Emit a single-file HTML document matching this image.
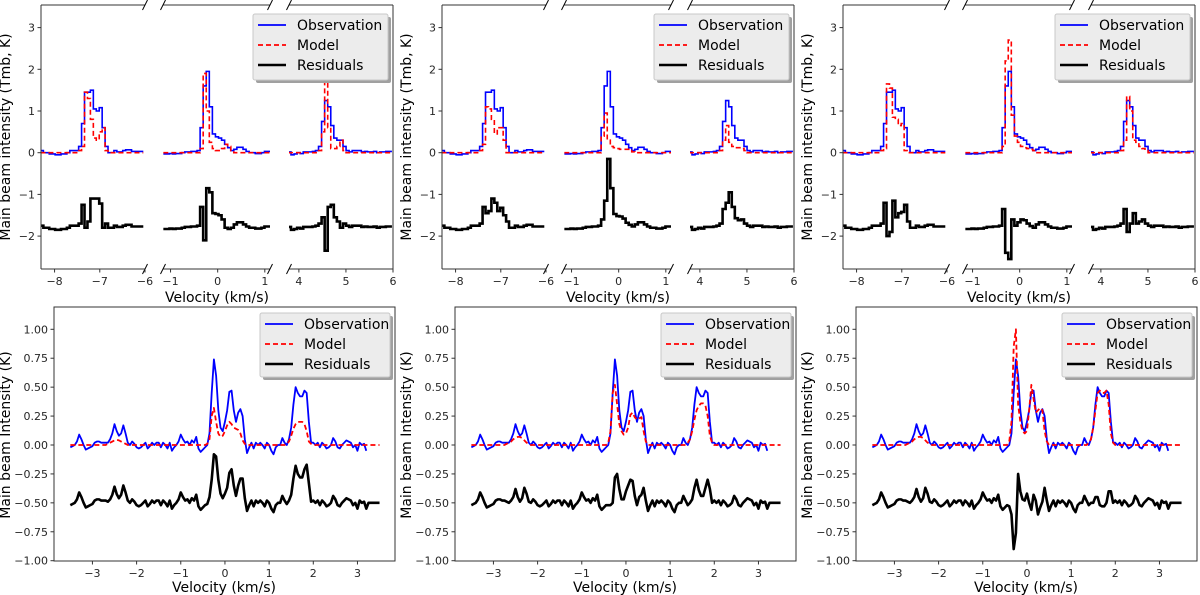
<!DOCTYPE html>
<html><head><meta charset="utf-8"><style>
html,body{margin:0;padding:0;background:#fff;}
svg{display:block;font-family:"DejaVu Sans","Liberation Sans",sans-serif;}
</style></head><body>
<svg id="fig" width="1200" height="595" viewBox="0 0 1200 595" xmlns="http://www.w3.org/2000/svg"></svg>
<script>
// ---------- TOP ROW DATA (broken axis, binned spectra) ----------
const segStart = [-8.28, -1.12, 3.8];
const segStep = 0.065;
const obsSeg1 = [0.05,0.0,0.0,-0.03,-0.03,-0.05,-0.05,-0.03,-0.03,0.0,0.05,0.05,0.05,0.15,0.7,1.45,1.45,1.5,1.05,1.0,1.08,0.6,0.15,0.0,0.0,0.05,0.02,0.02,0.05,0.07,0.07,0.03,0.03,0.03,0.03];
const obsSeg2 = [-0.03,-0.03,-0.02,-0.03,-0.02,-0.02,0.0,0.02,0.02,0.03,0.03,0.05,0.6,1.6,1.95,1.1,0.45,0.38,0.35,0.3,0.2,0.12,0.05,0.08,0.13,0.13,0.08,0.03,0.0,0.0,-0.02,-0.02,0.0,0.03,0.03];
const obsSeg3 = [0.02,-0.05,-0.03,0.0,-0.02,0.02,0.02,0.02,0.03,0.05,0.15,0.75,1.25,1.1,0.65,0.35,0.3,0.3,0.15,0.05,0.02,0.05,0.05,0.05,0.02,0.03,0.02,0.02,0.03,0.0,0.02,0.02,0.03,0.03];
const modelA1 = [0,0,0,0,0,0,0,0,0,0,0,0,0,0.05,0.15,1.45,1.3,0.8,0.35,0.3,0.5,0.6,0.05,0,0,0,0,0,0,0,0,0,0,0,0];
const modelA2 = [0,0,0,0,0,0,0,0,0,0,0,0,0.1,1.9,1.0,0.25,0.1,0.05,0.05,0.1,0.2,0.15,0.05,0,0,0,0,0,0,0,0,0,0,0,0];
const modelA3 = [0,0,0,0,0,0,0,0,0,0,0.05,0.5,1.8,0.6,0.1,0.1,0.15,0.3,0.05,0,0,0,0,0,0,0,0,0,0,0,0,0,0,0];
const modelB1 = [0,0,0,0,0,0,0,0,0,0,0,0,0,0.05,0.2,1.1,1.05,0.8,0.45,0.6,0.6,0.3,0.0,0,0,0,0,0,0,0,0,0,0,0,0];
const modelB2 = [0,0,0,0,0,0,0,0,0,0,0,0,0.4,0.95,0.3,0.15,0.12,0.1,0.08,0.08,0.08,0.05,0.02,0,0,0,0,0,0,0,0,0,0,0,0];
const modelB3 = [0,0,0,0,0,0,0,0,0,0,0.05,0.3,0.65,0.25,0.15,0.12,0.12,0.1,0.05,0,0,0,0,0,0,0,0,0,0,0,0,0,0,0];
const modelC1 = [0,0,0,0,0,0,0,0,0,0,0,0,0,0.05,0.1,1.65,1.55,0.85,0.8,0.65,0.7,0.05,0.0,0,0,0,0,0,0,0,0,0,0,0,0];
const modelC2 = [0,0,0,0,0,0,0,0,0,0,0,0,0.15,2.2,2.7,0.9,0.4,0.25,0.15,0.12,0.1,0.08,0.05,0,0,0,0,0,0,0,0,0,0,0,0];
const modelC3 = [0,0,0,0,0,0,0,0,0,0,0.05,0.3,1.35,1.0,0.3,0.25,0.15,0.1,0.05,0,0,0,0,0,0,0,0,0,0,0,0,0,0,0];
const topResidOffset = -1.8;
const topYTicks = [-2,-1,0,1,2,3];
const topXTicks = [[-8,-7,-6],[-1,0,1],[4,5,6]];

// ---------- BOTTOM ROW DATA (0.05 km/s grid from -3.5) ----------
const botStart = -3.5;
const botStep = 0.05;
const botObs = [
 -0.02,-0.01,0.0,0.03,0.09,0.05,0.0,-0.04,-0.03,-0.02,
 -0.01,0.02,0.03,0.03,0.02,0.02,0.02,0.02,0.05,0.1,
 0.18,0.12,0.08,0.1,0.17,0.1,0.02,0.0,0.03,0.01,
 -0.02,-0.03,-0.02,0.0,0.02,-0.03,-0.01,0.02,0.0,0.02,
 0.02,-0.02,0.02,0.0,-0.03,0.02,-0.05,-0.02,0.0,0.03,
 0.09,0.05,0.02,0.03,0.0,0.04,0.02,0.07,-0.03,-0.06,
 -0.04,-0.02,0.0,0.1,0.45,0.74,0.6,0.3,0.15,0.12,
 0.2,0.3,0.46,0.47,0.3,0.2,0.28,0.31,0.25,0.05,
 -0.07,-0.02,0.02,-0.03,0.02,0.0,0.02,0.0,-0.03,0.02,
 0.0,-0.05,-0.08,-0.02,0.0,0.0,0.06,0.02,0.0,0.05,
 0.15,0.35,0.5,0.45,0.42,0.42,0.47,0.45,0.2,0.02,
 0.02,0.0,0.02,-0.02,0.02,0.0,-0.03,-0.02,0.0,0.06,
 0.03,-0.02,-0.03,0.0,0.02,0.04,0.03,0.02,-0.02,0.0,
 -0.05,0.02,0.0,0.01,-0.05];
const botModelA = [
 0,0,0,0,0,0,0,0,0,0,
 0,0,0,0,0,0,0,0.01,0.02,0.03,
 0.04,0.045,0.04,0.03,0.02,0.01,0,0,0,0,
 0,0,0,0,0,0,0,0,0,0,
 0,0,0,0,0,0,0,0,0,0,
 0,0,0,0,0,0,0,0,0,0,
 0,0,0.01,0.05,0.25,0.32,0.2,0.1,0.07,0.08,
 0.12,0.17,0.2,0.18,0.15,0.14,0.13,0.1,0.04,0.01,
 0,0,0,0,0,0,0,0,0,0,
 0,0,0,0,0,0,0,0,0.01,0.03,
 0.08,0.14,0.18,0.2,0.2,0.2,0.18,0.12,0.03,0.01,
 0,0,0,0,0,0,0,0,0,0,
 0,0,0,0,0,0,0,0,0,0,
 0,0,0,0,0,0,0,0,0,0,0];
const botModelB = [
 0,0,0,0,0,0,0,0,0,0,
 0,0,0,0,0,0,0.01,0.02,0.03,0.05,
 0.06,0.07,0.07,0.06,0.04,0.02,0.01,0,0,0,
 0,0,0,0,0,0,0,0,0,0,
 0,0,0,0,0,0,0,0,0,0,
 0,0,0,0,0,0,0,0,0,0,
 0,0,0.02,0.12,0.45,0.52,0.35,0.18,0.12,0.09,
 0.1,0.15,0.26,0.28,0.24,0.22,0.23,0.24,0.12,0.03,
 0,0,0,0,0,0,0,0,0,0,
 0,0,0,0,0,0,0,0,0.02,0.05,
 0.12,0.22,0.3,0.34,0.36,0.36,0.34,0.25,0.08,0.02,
 0,0,0,0,0,0,0,0,0,0,
 0,0,0,0,0,0,0,0,0,0,
 0,0,0,0,0,0,0,0,0,0,0];
const botModelC = [
 0,0,0,0,0,0,0,0,0,0,
 0,0,0,0,0,0,0.01,0.02,0.03,0.05,
 0.06,0.07,0.07,0.06,0.04,0.02,0.01,0,0,0,
 0,0,0,0,0,0,0,0,0,0,
 0,0,0,0,0,0,0,0,0,0,
 0,0,0,0,0,0,0,0,0,0,
 0,0,0.03,0.2,0.85,1.0,0.35,0.2,0.12,0.1,
 0.12,0.3,0.52,0.4,0.28,0.3,0.32,0.3,0.12,0.03,
 0,0,0,0,0,0,0,0,0,0,
 0,0,0,0,0,0,0,0,0.02,0.05,
 0.15,0.3,0.45,0.47,0.45,0.45,0.47,0.35,0.1,0.02,
 0,0,0,0,0,0,0,0,0,0,
 0,0,0,0,0,0,0,0,0,0,
 0,0,0,0,0,0,0,0,0,0,0];
const botResidOffset = -0.5;
const botYTicks = [-1.0,-0.75,-0.5,-0.25,0.0,0.25,0.5,0.75,1.0];
const botXTicks = [-3,-2,-1,0,1,2,3];

const NS = "http://www.w3.org/2000/svg";
const svg = document.getElementById('fig');
function mk(tag, attrs, parent){
  const e = document.createElementNS(NS, tag);
  for (const k in attrs) e.setAttribute(k, attrs[k]);
  (parent||svg).appendChild(e);
  return e;
}
function fmtNum(v, d){ const s = Math.abs(v).toFixed(d); return (v < 0 ? "\u2212" : "") + s; }
let clipId = 0;

function legend(g, bx, by, w, h){
  const lg = mk('g', {}, g);
  
  
  mk('rect', {x:bx+3, y:by+3, width:w, height:h, fill:'#a0a0a0', rx:2}, lg);
  mk('rect', {x:bx, y:by, width:w, height:h, fill:'#ececec', stroke:'#c8c8c8', rx:2}, lg);
  const items = [['Observation','#0000ff','',1.8],['Model','#ff0000','5,3',1.8],['Residuals','#000','',2.6]];
  items.forEach((it, i) => {
    const yy = by + 11 + i*20;
    const ent = mk('g', {}, lg);
    
    
    mk('line', {x1:bx+5, x2:bx+33, y1:yy, y2:yy, stroke:it[1], 'stroke-width':it[3], 'stroke-dasharray':it[2]||'none'}, ent);
    const t = mk('text', {x:bx+44, y:yy+5, 'font-size':14, fill:'#000'}, ent);
    t.textContent = it[0];
  });
}

function stepPath(xf, yf, v0, dv, vals){
  let d = '';
  vals.forEach((v, i) => {
    const a = xf(v0 + (i-0.5)*dv), b = xf(v0 + (i+0.5)*dv), y = yf(v);
    d += (i === 0 ? 'M' : 'L') + a.toFixed(2) + ',' + y.toFixed(2) + 'L' + b.toFixed(2) + ',' + y.toFixed(2);
  });
  return d;
}
function linePath(xf, yf, v0, dv, vals){
  return vals.map((v, i) => (i === 0 ? 'M' : 'L') + xf(v0 + i*dv).toFixed(2) + ',' + yf(v).toFixed(2)).join('');
}

// ---------- TOP PANELS ----------
const topModels = [[modelA1,modelA2,modelA3],[modelB1,modelB2,modelB3],[modelC1,modelC2,modelC3]];
const topObs = [obsSeg1, obsSeg2, obsSeg3];
const topX0 = [41, 442, 843];
const subs = [{p0:0,p1:104,vmin:-8.3,vmax:-6.0},{p0:122,p1:229,vmin:-1.16,vmax:1.11},{p0:248,p1:352,vmin:3.79,vmax:6.0}];
const topY = v => 152.7 - v*41.7;
const topTop = 5, topBot = 269;

topX0.forEach((x0, pi) => {
  const g = mk('g', {});
  
  
  subs.forEach((s, si) => {
    const xf = v => x0 + s.p0 + (v - s.vmin)/(s.vmax - s.vmin)*(s.p1 - s.p0);
    const cid = 'c' + (clipId++);
    const cp = mk('clipPath', {id:cid}, g);
    mk('rect', {x:x0+s.p0, y:topTop, width:s.p1-s.p0, height:topBot-topTop}, cp);
    const sg = mk('g', {'clip-path':'url(#'+cid+')'}, g);
    
    
    const obs = topObs[si], mod = topModels[pi][si];
    const res = obs.map((o, i) => o - mod[i] + topResidOffset);
    const po = mk('path', {d:stepPath(xf, topY, segStart[si], segStep, obs), fill:'none', stroke:'#0000ff', 'stroke-width':1.6}, sg);
    
    
    const pm = mk('path', {d:stepPath(xf, topY, segStart[si], segStep, mod), fill:'none', stroke:'#ff0000', 'stroke-width':1.6, 'stroke-dasharray':'5,3'}, sg);
    
    
    const pr = mk('path', {d:stepPath(xf, topY, segStart[si], segStep, res), fill:'none', stroke:'#000', 'stroke-width':2.6}, sg);
    
    
    mk('line', {x1:x0+s.p0, x2:x0+s.p1, y1:topTop, y2:topTop, stroke:'#333', 'stroke-width':1}, g);
    mk('line', {x1:x0+s.p0, x2:x0+s.p1, y1:topBot, y2:topBot, stroke:'#333', 'stroke-width':1}, g);
    if (si === 0) mk('line', {x1:x0, x2:x0, y1:topTop, y2:topBot, stroke:'#333'}, g);
    if (si === 2) mk('line', {x1:x0+s.p1, x2:x0+s.p1, y1:topTop, y2:topBot, stroke:'#333'}, g);
    const ends = [];
    if (si > 0) ends.push(x0 + s.p0);
    if (si < 2) ends.push(x0 + s.p1);
    ends.forEach(ex => {
      [topTop, topBot].forEach(ey => {
        mk('line', {x1:ex-2.5, y1:ey+5, x2:ex+2.5, y2:ey-5, stroke:'#000', 'stroke-width':1}, g);
      });
    });
    topXTicks[si].forEach(t => {
      const x = xf(t);
      mk('line', {x1:x, x2:x, y1:topBot, y2:topBot+3.5, stroke:'#333'}, g);
      const tx = mk('text', {x:x, y:topBot+16, 'font-size':11, fill:'#262626', 'text-anchor':'middle'}, g);
      tx.textContent = fmtNum(t, 0);
    });
  });
  topYTicks.forEach(t => {
    const y = topY(t);
    mk('line', {x1:x0-3.5, x2:x0, y1:y, y2:y, stroke:'#333'}, g);
    const tx = mk('text', {x:x0-6, y:y+4, 'font-size':11, fill:'#262626', 'text-anchor':'end'}, g);
    tx.textContent = fmtNum(t, 0);
  });
  const yl = mk('text', {x:0, y:0, 'font-size':14, fill:'#000', 'text-anchor':'middle', transform:'translate('+(x0-31)+',137) rotate(-90)'}, g);
  
  
  yl.textContent = 'Main beam intensity (Tmb, K)';
  const xl = mk('text', {x:x0+176, y:302, 'font-size':14, fill:'#000', 'text-anchor':'middle'}, g);
  
  
  xl.textContent = 'Velocity (km/s)';
  legend(g, x0+212, 14, 135, 66);
});

// ---------- BOTTOM PANELS ----------
const botModels = [botModelA, botModelB, botModelC];
const botX0 = [54, 455, 856];
const botW = 341, botTop = 307, botBot = 561;
const bvmin = -3.87, bvmax = 3.85;
const botY = v => 445 - v*115.7;

botX0.forEach((x0, pi) => {
  const g = mk('g', {});
  
  
  const xf = v => x0 + (v - bvmin)/(bvmax - bvmin)*botW;
  const mod = botModels[pi];
  const res = mod.map((m, i) => (i < botObs.length ? botObs[i] - m : 0) + botResidOffset);
  const lines = [[botObs,'#0000ff',1.8,'','observation-line'],[mod,'#ff0000',1.8,'5,3','model-line'],[res,'#000',2.6,'','residuals-line']];
  lines.forEach(L => {
    const p = mk('path', {d:linePath(xf, botY, botStart, botStep, L[0]), fill:'none', stroke:L[1], 'stroke-width':L[2], 'stroke-dasharray':L[3]||'none', 'stroke-linejoin':'round'}, g);
    
    
  });
  mk('rect', {x:x0, y:botTop, width:botW, height:botBot-botTop, fill:'none', stroke:'#333', 'stroke-width':1}, g);
  botYTicks.forEach(t => {
    const y = botY(t);
    mk('line', {x1:x0-3.5, x2:x0, y1:y, y2:y, stroke:'#333'}, g);
    const tx = mk('text', {x:x0-6, y:y+4, 'font-size':11, fill:'#262626', 'text-anchor':'end'}, g);
    tx.textContent = fmtNum(t, 2);
  });
  botXTicks.forEach(t => {
    const x = xf(t);
    mk('line', {x1:x, x2:x, y1:botBot, y2:botBot+3.5, stroke:'#333'}, g);
    const tx = mk('text', {x:x, y:botBot+16, 'font-size':11, fill:'#262626', 'text-anchor':'middle'}, g);
    tx.textContent = fmtNum(t, 0);
  });
  const yl = mk('text', {x:0, y:0, 'font-size':14, fill:'#000', 'text-anchor':'middle', transform:'translate('+(x0-44)+',435) rotate(-90)'}, g);
  
  
  yl.textContent = 'Main beam Intensity (K)';
  const xl = mk('text', {x:x0+170, y:592, 'font-size':14, fill:'#000', 'text-anchor':'middle'}, g);
  
  
  xl.textContent = 'Velocity (km/s)';
  legend(g, x0+206, 313, 130, 64);
});
</script>
</body></html>
